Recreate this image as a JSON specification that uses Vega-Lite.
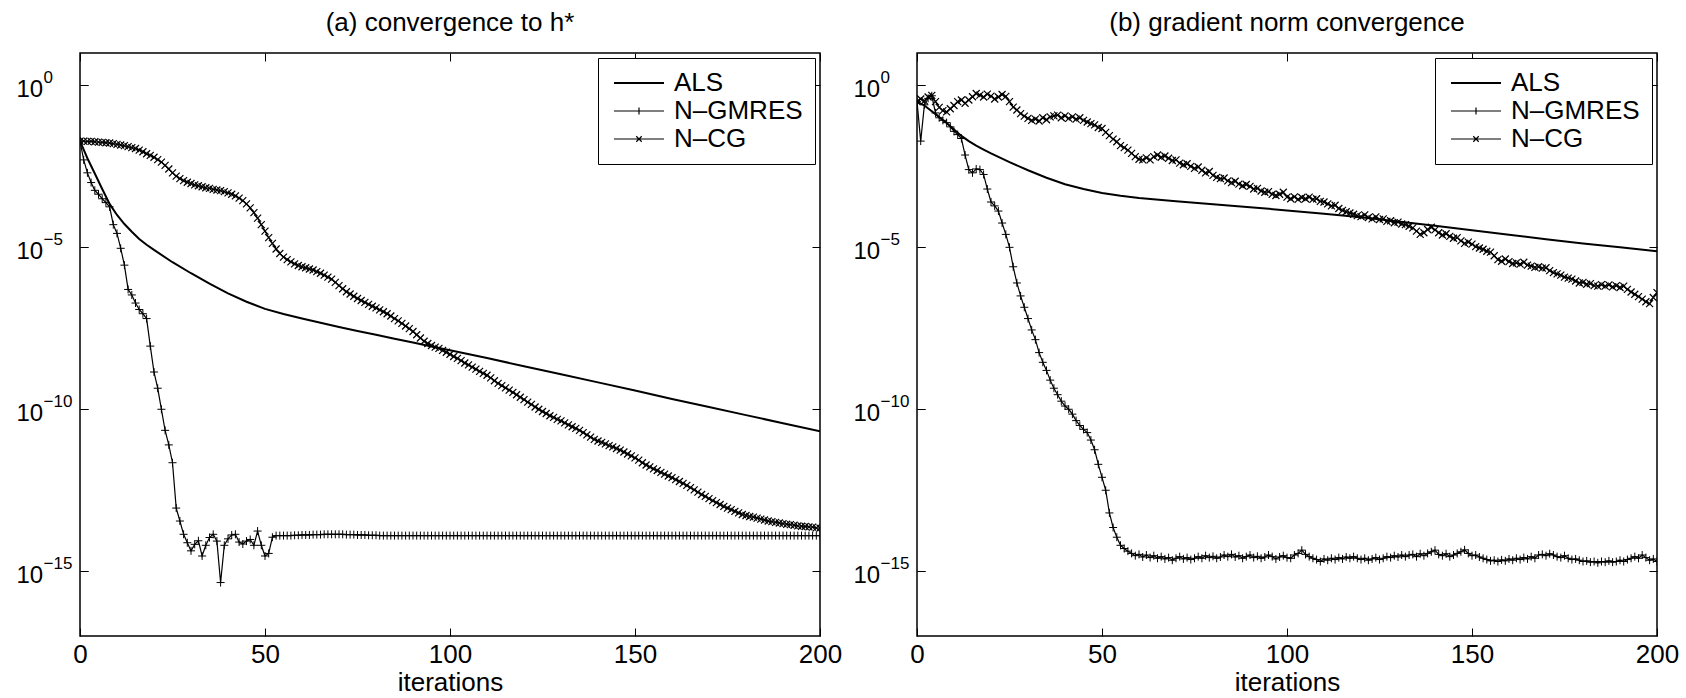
{
"$schema": "https://vega.github.io/schema/vega-lite/v6.json",
"autosize": {"type": "pad"},
"padding": {"left": 15, "top": 8, "right": 0, "bottom": 0},
"background": "white",
"config": {"font": "Liberation Sans", "view": {"stroke": "black", "strokeWidth": 1.5}},
"spacing": 9,
"resolve": {"scale": {"color": "independent"}},
"datasets": {
"aALS": [{"i":0,"v":-1.72},{"i":2,"v":-2.25},{"i":4,"v":-2.72},{"i":6,"v":-3.2},{"i":8,"v":-3.66},{"i":10,"v":-4.0},{"i":12,"v":-4.28},{"i":14,"v":-4.52},{"i":16,"v":-4.74},{"i":18,"v":-4.92},{"i":20,"v":-5.08},{"i":25,"v":-5.46},{"i":30,"v":-5.8},{"i":35,"v":-6.12},{"i":40,"v":-6.42},{"i":45,"v":-6.68},{"i":50,"v":-6.9},{"i":55,"v":-7.06},{"i":60,"v":-7.2},{"i":65,"v":-7.33},{"i":70,"v":-7.46},{"i":75,"v":-7.58},{"i":80,"v":-7.7},{"i":85,"v":-7.82},{"i":90,"v":-7.94},{"i":95,"v":-8.06},{"i":100,"v":-8.18},{"i":110,"v":-8.42},{"i":120,"v":-8.67},{"i":130,"v":-8.92},{"i":140,"v":-9.17},{"i":150,"v":-9.42},{"i":160,"v":-9.68},{"i":170,"v":-9.93},{"i":180,"v":-10.18},{"i":190,"v":-10.43},{"i":200,"v":-10.68}],
"aGM": [{"i":0,"v":-1.72},{"i":1,"v":-2.3},{"i":2,"v":-2.7},{"i":3,"v":-3.0},{"i":4,"v":-3.24},{"i":5,"v":-3.36},{"i":6,"v":-3.5},{"i":7,"v":-3.62},{"i":8,"v":-3.75},{"i":9,"v":-4.3},{"i":10,"v":-4.57},{"i":11,"v":-5.03},{"i":12,"v":-5.55},{"i":13,"v":-6.3},{"i":14,"v":-6.47},{"i":15,"v":-6.72},{"i":16,"v":-6.92},{"i":17,"v":-7.05},{"i":18,"v":-7.2},{"i":19,"v":-8.05},{"i":20,"v":-8.85},{"i":21,"v":-9.35},{"i":22,"v":-10.0},{"i":23,"v":-10.65},{"i":24,"v":-11.1},{"i":25,"v":-11.65},{"i":26,"v":-13.05},{"i":27,"v":-13.45},{"i":28,"v":-13.86},{"i":29,"v":-14.12},{"i":30,"v":-14.37},{"i":31,"v":-14.17},{"i":32,"v":-14.06},{"i":33,"v":-14.53},{"i":34,"v":-14.2},{"i":35,"v":-13.96},{"i":36,"v":-13.86},{"i":37,"v":-14.07},{"i":38,"v":-15.35},{"i":39,"v":-14.2},{"i":40,"v":-14.0},{"i":41,"v":-13.88},{"i":42,"v":-13.86},{"i":43,"v":-14.1},{"i":44,"v":-14.16},{"i":45,"v":-14.07},{"i":46,"v":-14.02},{"i":47,"v":-14.2},{"i":48,"v":-13.76},{"i":49,"v":-14.2},{"i":50,"v":-14.53},{"i":51,"v":-14.45},{"i":52,"v":-13.95},{"i":53,"v":-13.9},{"i":54,"v":-13.9},{"i":55,"v":-13.9},{"i":56,"v":-13.9},{"i":57,"v":-13.9},{"i":58,"v":-13.89},{"i":59,"v":-13.89},{"i":60,"v":-13.88},{"i":61,"v":-13.88},{"i":62,"v":-13.88},{"i":63,"v":-13.87},{"i":64,"v":-13.87},{"i":65,"v":-13.87},{"i":66,"v":-13.86},{"i":67,"v":-13.86},{"i":68,"v":-13.86},{"i":69,"v":-13.86},{"i":70,"v":-13.86},{"i":71,"v":-13.86},{"i":72,"v":-13.87},{"i":73,"v":-13.87},{"i":74,"v":-13.87},{"i":75,"v":-13.88},{"i":76,"v":-13.88},{"i":77,"v":-13.88},{"i":78,"v":-13.89},{"i":79,"v":-13.89},{"i":80,"v":-13.89},{"i":81,"v":-13.9},{"i":82,"v":-13.9},{"i":83,"v":-13.9},{"i":84,"v":-13.9},{"i":85,"v":-13.9},{"i":86,"v":-13.9},{"i":87,"v":-13.9},{"i":88,"v":-13.9},{"i":89,"v":-13.9},{"i":90,"v":-13.9},{"i":91,"v":-13.9},{"i":92,"v":-13.9},{"i":93,"v":-13.9},{"i":94,"v":-13.9},{"i":95,"v":-13.9},{"i":96,"v":-13.9},{"i":97,"v":-13.9},{"i":98,"v":-13.9},{"i":99,"v":-13.9},{"i":100,"v":-13.9},{"i":101,"v":-13.9},{"i":102,"v":-13.9},{"i":103,"v":-13.9},{"i":104,"v":-13.9},{"i":105,"v":-13.9},{"i":106,"v":-13.9},{"i":107,"v":-13.9},{"i":108,"v":-13.9},{"i":109,"v":-13.9},{"i":110,"v":-13.9},{"i":111,"v":-13.9},{"i":112,"v":-13.9},{"i":113,"v":-13.9},{"i":114,"v":-13.9},{"i":115,"v":-13.9},{"i":116,"v":-13.9},{"i":117,"v":-13.9},{"i":118,"v":-13.9},{"i":119,"v":-13.9},{"i":120,"v":-13.9},{"i":121,"v":-13.9},{"i":122,"v":-13.9},{"i":123,"v":-13.9},{"i":124,"v":-13.9},{"i":125,"v":-13.9},{"i":126,"v":-13.9},{"i":127,"v":-13.9},{"i":128,"v":-13.9},{"i":129,"v":-13.9},{"i":130,"v":-13.9},{"i":131,"v":-13.9},{"i":132,"v":-13.9},{"i":133,"v":-13.9},{"i":134,"v":-13.9},{"i":135,"v":-13.9},{"i":136,"v":-13.9},{"i":137,"v":-13.9},{"i":138,"v":-13.9},{"i":139,"v":-13.9},{"i":140,"v":-13.9},{"i":141,"v":-13.9},{"i":142,"v":-13.9},{"i":143,"v":-13.9},{"i":144,"v":-13.9},{"i":145,"v":-13.9},{"i":146,"v":-13.9},{"i":147,"v":-13.9},{"i":148,"v":-13.9},{"i":149,"v":-13.9},{"i":150,"v":-13.9},{"i":151,"v":-13.9},{"i":152,"v":-13.9},{"i":153,"v":-13.9},{"i":154,"v":-13.9},{"i":155,"v":-13.9},{"i":156,"v":-13.9},{"i":157,"v":-13.9},{"i":158,"v":-13.9},{"i":159,"v":-13.9},{"i":160,"v":-13.9},{"i":161,"v":-13.9},{"i":162,"v":-13.9},{"i":163,"v":-13.9},{"i":164,"v":-13.9},{"i":165,"v":-13.9},{"i":166,"v":-13.9},{"i":167,"v":-13.9},{"i":168,"v":-13.9},{"i":169,"v":-13.9},{"i":170,"v":-13.9},{"i":171,"v":-13.9},{"i":172,"v":-13.9},{"i":173,"v":-13.9},{"i":174,"v":-13.9},{"i":175,"v":-13.9},{"i":176,"v":-13.9},{"i":177,"v":-13.9},{"i":178,"v":-13.9},{"i":179,"v":-13.9},{"i":180,"v":-13.9},{"i":181,"v":-13.9},{"i":182,"v":-13.9},{"i":183,"v":-13.9},{"i":184,"v":-13.9},{"i":185,"v":-13.9},{"i":186,"v":-13.9},{"i":187,"v":-13.9},{"i":188,"v":-13.9},{"i":189,"v":-13.9},{"i":190,"v":-13.9},{"i":191,"v":-13.9},{"i":192,"v":-13.9},{"i":193,"v":-13.9},{"i":194,"v":-13.9},{"i":195,"v":-13.9},{"i":196,"v":-13.9},{"i":197,"v":-13.9},{"i":198,"v":-13.9},{"i":199,"v":-13.9},{"i":200,"v":-13.9}],
"aCG": [{"i":0,"v":-1.72},{"i":1,"v":-1.72},{"i":2,"v":-1.73},{"i":3,"v":-1.73},{"i":4,"v":-1.74},{"i":5,"v":-1.75},{"i":6,"v":-1.76},{"i":7,"v":-1.77},{"i":8,"v":-1.78},{"i":9,"v":-1.8},{"i":10,"v":-1.82},{"i":11,"v":-1.84},{"i":12,"v":-1.86},{"i":13,"v":-1.89},{"i":14,"v":-1.92},{"i":15,"v":-1.95},{"i":16,"v":-2.0},{"i":17,"v":-2.05},{"i":18,"v":-2.11},{"i":19,"v":-2.16},{"i":20,"v":-2.22},{"i":21,"v":-2.29},{"i":22,"v":-2.37},{"i":23,"v":-2.47},{"i":24,"v":-2.58},{"i":25,"v":-2.7},{"i":26,"v":-2.8},{"i":27,"v":-2.88},{"i":28,"v":-2.94},{"i":29,"v":-2.99},{"i":30,"v":-3.03},{"i":31,"v":-3.07},{"i":32,"v":-3.1},{"i":33,"v":-3.13},{"i":34,"v":-3.16},{"i":35,"v":-3.18},{"i":36,"v":-3.21},{"i":37,"v":-3.23},{"i":38,"v":-3.25},{"i":39,"v":-3.28},{"i":40,"v":-3.32},{"i":41,"v":-3.36},{"i":42,"v":-3.41},{"i":43,"v":-3.48},{"i":44,"v":-3.56},{"i":45,"v":-3.66},{"i":46,"v":-3.78},{"i":47,"v":-3.93},{"i":48,"v":-4.1},{"i":49,"v":-4.3},{"i":50,"v":-4.5},{"i":51,"v":-4.7},{"i":52,"v":-4.88},{"i":53,"v":-5.05},{"i":54,"v":-5.19},{"i":55,"v":-5.3},{"i":56,"v":-5.38},{"i":57,"v":-5.45},{"i":58,"v":-5.51},{"i":59,"v":-5.56},{"i":60,"v":-5.6},{"i":61,"v":-5.63},{"i":62,"v":-5.67},{"i":63,"v":-5.7},{"i":64,"v":-5.75},{"i":65,"v":-5.8},{"i":66,"v":-5.86},{"i":67,"v":-5.92},{"i":68,"v":-5.98},{"i":69,"v":-6.08},{"i":70,"v":-6.18},{"i":71,"v":-6.28},{"i":72,"v":-6.37},{"i":73,"v":-6.44},{"i":74,"v":-6.51},{"i":75,"v":-6.58},{"i":76,"v":-6.64},{"i":77,"v":-6.7},{"i":78,"v":-6.76},{"i":79,"v":-6.82},{"i":80,"v":-6.87},{"i":81,"v":-6.93},{"i":82,"v":-6.99},{"i":83,"v":-7.05},{"i":84,"v":-7.12},{"i":85,"v":-7.2},{"i":86,"v":-7.27},{"i":87,"v":-7.35},{"i":88,"v":-7.43},{"i":89,"v":-7.51},{"i":90,"v":-7.6},{"i":91,"v":-7.7},{"i":92,"v":-7.8},{"i":93,"v":-7.9},{"i":94,"v":-7.97},{"i":95,"v":-8.03},{"i":96,"v":-8.08},{"i":97,"v":-8.12},{"i":98,"v":-8.18},{"i":99,"v":-8.24},{"i":100,"v":-8.3},{"i":101,"v":-8.37},{"i":102,"v":-8.43},{"i":103,"v":-8.5},{"i":104,"v":-8.57},{"i":105,"v":-8.63},{"i":106,"v":-8.7},{"i":107,"v":-8.76},{"i":108,"v":-8.83},{"i":109,"v":-8.89},{"i":110,"v":-8.95},{"i":111,"v":-9.03},{"i":112,"v":-9.12},{"i":113,"v":-9.2},{"i":114,"v":-9.27},{"i":115,"v":-9.34},{"i":116,"v":-9.41},{"i":117,"v":-9.48},{"i":118,"v":-9.55},{"i":119,"v":-9.63},{"i":120,"v":-9.7},{"i":121,"v":-9.78},{"i":122,"v":-9.85},{"i":123,"v":-9.93},{"i":124,"v":-10.0},{"i":125,"v":-10.07},{"i":126,"v":-10.13},{"i":127,"v":-10.2},{"i":128,"v":-10.25},{"i":129,"v":-10.31},{"i":130,"v":-10.36},{"i":131,"v":-10.42},{"i":132,"v":-10.48},{"i":133,"v":-10.54},{"i":134,"v":-10.59},{"i":135,"v":-10.65},{"i":136,"v":-10.72},{"i":137,"v":-10.79},{"i":138,"v":-10.86},{"i":139,"v":-10.93},{"i":140,"v":-10.98},{"i":141,"v":-11.02},{"i":142,"v":-11.07},{"i":143,"v":-11.12},{"i":144,"v":-11.16},{"i":145,"v":-11.21},{"i":146,"v":-11.26},{"i":147,"v":-11.32},{"i":148,"v":-11.38},{"i":149,"v":-11.44},{"i":150,"v":-11.5},{"i":151,"v":-11.57},{"i":152,"v":-11.65},{"i":153,"v":-11.72},{"i":154,"v":-11.78},{"i":155,"v":-11.84},{"i":156,"v":-11.89},{"i":157,"v":-11.95},{"i":158,"v":-12.0},{"i":159,"v":-12.06},{"i":160,"v":-12.11},{"i":161,"v":-12.17},{"i":162,"v":-12.23},{"i":163,"v":-12.29},{"i":164,"v":-12.35},{"i":165,"v":-12.42},{"i":166,"v":-12.49},{"i":167,"v":-12.56},{"i":168,"v":-12.63},{"i":169,"v":-12.69},{"i":170,"v":-12.76},{"i":171,"v":-12.82},{"i":172,"v":-12.88},{"i":173,"v":-12.94},{"i":174,"v":-13.0},{"i":175,"v":-13.05},{"i":176,"v":-13.1},{"i":177,"v":-13.15},{"i":178,"v":-13.2},{"i":179,"v":-13.25},{"i":180,"v":-13.28},{"i":181,"v":-13.31},{"i":182,"v":-13.33},{"i":183,"v":-13.36},{"i":184,"v":-13.39},{"i":185,"v":-13.42},{"i":186,"v":-13.45},{"i":187,"v":-13.47},{"i":188,"v":-13.49},{"i":189,"v":-13.51},{"i":190,"v":-13.53},{"i":191,"v":-13.55},{"i":192,"v":-13.56},{"i":193,"v":-13.58},{"i":194,"v":-13.6},{"i":195,"v":-13.61},{"i":196,"v":-13.62},{"i":197,"v":-13.63},{"i":198,"v":-13.64},{"i":199,"v":-13.66},{"i":200,"v":-13.67}],
"bALS": [{"i":0,"v":-0.5},{"i":2,"v":-0.62},{"i":4,"v":-0.8},{"i":6,"v":-0.98},{"i":8,"v":-1.16},{"i":10,"v":-1.36},{"i":12,"v":-1.56},{"i":14,"v":-1.72},{"i":16,"v":-1.86},{"i":18,"v":-1.98},{"i":20,"v":-2.1},{"i":25,"v":-2.37},{"i":30,"v":-2.62},{"i":35,"v":-2.85},{"i":40,"v":-3.05},{"i":45,"v":-3.2},{"i":50,"v":-3.32},{"i":55,"v":-3.41},{"i":60,"v":-3.48},{"i":70,"v":-3.58},{"i":80,"v":-3.67},{"i":90,"v":-3.76},{"i":100,"v":-3.86},{"i":110,"v":-3.96},{"i":120,"v":-4.07},{"i":130,"v":-4.2},{"i":140,"v":-4.33},{"i":150,"v":-4.47},{"i":160,"v":-4.61},{"i":170,"v":-4.75},{"i":180,"v":-4.88},{"i":190,"v":-5.0},{"i":200,"v":-5.12}],
"bGM": [{"i":0,"v":-0.5},{"i":1,"v":-1.72},{"i":2,"v":-0.6},{"i":3,"v":-0.4},{"i":4,"v":-0.32},{"i":5,"v":-0.85},{"i":6,"v":-1.0},{"i":7,"v":-1.08},{"i":8,"v":-1.15},{"i":9,"v":-1.28},{"i":10,"v":-1.42},{"i":11,"v":-1.52},{"i":12,"v":-1.64},{"i":13,"v":-2.15},{"i":14,"v":-2.6},{"i":15,"v":-2.7},{"i":16,"v":-2.58},{"i":17,"v":-2.6},{"i":18,"v":-2.75},{"i":19,"v":-3.2},{"i":20,"v":-3.6},{"i":21,"v":-3.72},{"i":22,"v":-3.88},{"i":23,"v":-4.25},{"i":24,"v":-4.6},{"i":25,"v":-5.0},{"i":26,"v":-5.6},{"i":27,"v":-6.1},{"i":28,"v":-6.5},{"i":29,"v":-6.85},{"i":30,"v":-7.2},{"i":31,"v":-7.55},{"i":32,"v":-7.85},{"i":33,"v":-8.25},{"i":34,"v":-8.55},{"i":35,"v":-8.8},{"i":36,"v":-9.1},{"i":37,"v":-9.35},{"i":38,"v":-9.55},{"i":39,"v":-9.75},{"i":40,"v":-9.9},{"i":41,"v":-10.0},{"i":42,"v":-10.15},{"i":43,"v":-10.35},{"i":44,"v":-10.5},{"i":45,"v":-10.62},{"i":46,"v":-10.72},{"i":47,"v":-10.95},{"i":48,"v":-11.25},{"i":49,"v":-11.7},{"i":50,"v":-12.1},{"i":51,"v":-12.5},{"i":52,"v":-13.2},{"i":53,"v":-13.65},{"i":54,"v":-13.95},{"i":55,"v":-14.2},{"i":56,"v":-14.3},{"i":57,"v":-14.38},{"i":58,"v":-14.45},{"i":59,"v":-14.52},{"i":60,"v":-14.48},{"i":61,"v":-14.56},{"i":62,"v":-14.5},{"i":63,"v":-14.58},{"i":64,"v":-14.52},{"i":65,"v":-14.6},{"i":66,"v":-14.55},{"i":67,"v":-14.62},{"i":68,"v":-14.58},{"i":69,"v":-14.66},{"i":70,"v":-14.6},{"i":71,"v":-14.55},{"i":72,"v":-14.62},{"i":73,"v":-14.58},{"i":74,"v":-14.64},{"i":75,"v":-14.6},{"i":76,"v":-14.55},{"i":77,"v":-14.6},{"i":78,"v":-14.52},{"i":79,"v":-14.58},{"i":80,"v":-14.54},{"i":81,"v":-14.6},{"i":82,"v":-14.56},{"i":83,"v":-14.5},{"i":84,"v":-14.55},{"i":85,"v":-14.48},{"i":86,"v":-14.56},{"i":87,"v":-14.52},{"i":88,"v":-14.6},{"i":89,"v":-14.55},{"i":90,"v":-14.5},{"i":91,"v":-14.58},{"i":92,"v":-14.54},{"i":93,"v":-14.6},{"i":94,"v":-14.56},{"i":95,"v":-14.5},{"i":96,"v":-14.55},{"i":97,"v":-14.62},{"i":98,"v":-14.56},{"i":99,"v":-14.52},{"i":100,"v":-14.58},{"i":101,"v":-14.6},{"i":102,"v":-14.5},{"i":103,"v":-14.45},{"i":104,"v":-14.35},{"i":105,"v":-14.48},{"i":106,"v":-14.55},{"i":107,"v":-14.6},{"i":108,"v":-14.64},{"i":109,"v":-14.7},{"i":110,"v":-14.62},{"i":111,"v":-14.66},{"i":112,"v":-14.6},{"i":113,"v":-14.64},{"i":114,"v":-14.58},{"i":115,"v":-14.62},{"i":116,"v":-14.56},{"i":117,"v":-14.6},{"i":118,"v":-14.55},{"i":119,"v":-14.6},{"i":120,"v":-14.64},{"i":121,"v":-14.6},{"i":122,"v":-14.66},{"i":123,"v":-14.62},{"i":124,"v":-14.58},{"i":125,"v":-14.64},{"i":126,"v":-14.6},{"i":127,"v":-14.55},{"i":128,"v":-14.58},{"i":129,"v":-14.52},{"i":130,"v":-14.56},{"i":131,"v":-14.5},{"i":132,"v":-14.55},{"i":133,"v":-14.5},{"i":134,"v":-14.48},{"i":135,"v":-14.55},{"i":136,"v":-14.46},{"i":137,"v":-14.52},{"i":138,"v":-14.45},{"i":139,"v":-14.4},{"i":140,"v":-14.35},{"i":141,"v":-14.48},{"i":142,"v":-14.52},{"i":143,"v":-14.46},{"i":144,"v":-14.55},{"i":145,"v":-14.5},{"i":146,"v":-14.45},{"i":147,"v":-14.4},{"i":148,"v":-14.34},{"i":149,"v":-14.45},{"i":150,"v":-14.52},{"i":151,"v":-14.5},{"i":152,"v":-14.56},{"i":153,"v":-14.6},{"i":154,"v":-14.64},{"i":155,"v":-14.68},{"i":156,"v":-14.66},{"i":157,"v":-14.7},{"i":158,"v":-14.65},{"i":159,"v":-14.68},{"i":160,"v":-14.62},{"i":161,"v":-14.66},{"i":162,"v":-14.6},{"i":163,"v":-14.64},{"i":164,"v":-14.58},{"i":165,"v":-14.62},{"i":166,"v":-14.55},{"i":167,"v":-14.6},{"i":168,"v":-14.5},{"i":169,"v":-14.48},{"i":170,"v":-14.52},{"i":171,"v":-14.46},{"i":172,"v":-14.5},{"i":173,"v":-14.55},{"i":174,"v":-14.58},{"i":175,"v":-14.52},{"i":176,"v":-14.6},{"i":177,"v":-14.64},{"i":178,"v":-14.62},{"i":179,"v":-14.66},{"i":180,"v":-14.7},{"i":181,"v":-14.68},{"i":182,"v":-14.72},{"i":183,"v":-14.7},{"i":184,"v":-14.74},{"i":185,"v":-14.7},{"i":186,"v":-14.72},{"i":187,"v":-14.68},{"i":188,"v":-14.72},{"i":189,"v":-14.7},{"i":190,"v":-14.66},{"i":191,"v":-14.7},{"i":192,"v":-14.64},{"i":193,"v":-14.6},{"i":194,"v":-14.55},{"i":195,"v":-14.6},{"i":196,"v":-14.5},{"i":197,"v":-14.58},{"i":198,"v":-14.66},{"i":199,"v":-14.62},{"i":200,"v":-14.7}],
"bCG": [{"i":0,"v":-0.5},{"i":1,"v":-0.42},{"i":2,"v":-0.48},{"i":3,"v":-0.36},{"i":4,"v":-0.31},{"i":5,"v":-0.5},{"i":6,"v":-0.68},{"i":7,"v":-0.78},{"i":8,"v":-0.82},{"i":9,"v":-0.72},{"i":10,"v":-0.62},{"i":11,"v":-0.5},{"i":12,"v":-0.45},{"i":13,"v":-0.55},{"i":14,"v":-0.45},{"i":15,"v":-0.35},{"i":16,"v":-0.25},{"i":17,"v":-0.3},{"i":18,"v":-0.36},{"i":19,"v":-0.27},{"i":20,"v":-0.33},{"i":21,"v":-0.42},{"i":22,"v":-0.36},{"i":23,"v":-0.28},{"i":24,"v":-0.34},{"i":25,"v":-0.5},{"i":26,"v":-0.67},{"i":27,"v":-0.76},{"i":28,"v":-0.87},{"i":29,"v":-0.95},{"i":30,"v":-1.02},{"i":31,"v":-1.08},{"i":32,"v":-1.04},{"i":33,"v":-1.1},{"i":34,"v":-1.0},{"i":35,"v":-1.06},{"i":36,"v":-0.97},{"i":37,"v":-0.94},{"i":38,"v":-0.92},{"i":39,"v":-1.0},{"i":40,"v":-0.94},{"i":41,"v":-1.02},{"i":42,"v":-0.97},{"i":43,"v":-1.04},{"i":44,"v":-1.0},{"i":45,"v":-1.08},{"i":46,"v":-1.13},{"i":47,"v":-1.18},{"i":48,"v":-1.22},{"i":49,"v":-1.3},{"i":50,"v":-1.33},{"i":51,"v":-1.45},{"i":52,"v":-1.55},{"i":53,"v":-1.66},{"i":54,"v":-1.74},{"i":55,"v":-1.86},{"i":56,"v":-1.92},{"i":57,"v":-2.0},{"i":58,"v":-2.1},{"i":59,"v":-2.2},{"i":60,"v":-2.28},{"i":61,"v":-2.3},{"i":62,"v":-2.24},{"i":63,"v":-2.3},{"i":64,"v":-2.2},{"i":65,"v":-2.15},{"i":66,"v":-2.22},{"i":67,"v":-2.18},{"i":68,"v":-2.25},{"i":69,"v":-2.32},{"i":70,"v":-2.3},{"i":71,"v":-2.4},{"i":72,"v":-2.45},{"i":73,"v":-2.42},{"i":74,"v":-2.5},{"i":75,"v":-2.56},{"i":76,"v":-2.52},{"i":77,"v":-2.62},{"i":78,"v":-2.7},{"i":79,"v":-2.66},{"i":80,"v":-2.78},{"i":81,"v":-2.84},{"i":82,"v":-2.88},{"i":83,"v":-2.86},{"i":84,"v":-2.95},{"i":85,"v":-3.0},{"i":86,"v":-2.96},{"i":87,"v":-3.05},{"i":88,"v":-3.1},{"i":89,"v":-3.06},{"i":90,"v":-3.12},{"i":91,"v":-3.2},{"i":92,"v":-3.18},{"i":93,"v":-3.26},{"i":94,"v":-3.3},{"i":95,"v":-3.28},{"i":96,"v":-3.36},{"i":97,"v":-3.4},{"i":98,"v":-3.36},{"i":99,"v":-3.3},{"i":100,"v":-3.45},{"i":101,"v":-3.5},{"i":102,"v":-3.44},{"i":103,"v":-3.52},{"i":104,"v":-3.46},{"i":105,"v":-3.5},{"i":106,"v":-3.45},{"i":107,"v":-3.52},{"i":108,"v":-3.5},{"i":109,"v":-3.58},{"i":110,"v":-3.6},{"i":111,"v":-3.66},{"i":112,"v":-3.72},{"i":113,"v":-3.7},{"i":114,"v":-3.8},{"i":115,"v":-3.86},{"i":116,"v":-3.9},{"i":117,"v":-3.94},{"i":118,"v":-3.98},{"i":119,"v":-4.02},{"i":120,"v":-4.05},{"i":121,"v":-4.0},{"i":122,"v":-4.08},{"i":123,"v":-4.12},{"i":124,"v":-4.06},{"i":125,"v":-4.14},{"i":126,"v":-4.12},{"i":127,"v":-4.2},{"i":128,"v":-4.18},{"i":129,"v":-4.24},{"i":130,"v":-4.22},{"i":131,"v":-4.28},{"i":132,"v":-4.3},{"i":133,"v":-4.35},{"i":134,"v":-4.4},{"i":135,"v":-4.5},{"i":136,"v":-4.6},{"i":137,"v":-4.55},{"i":138,"v":-4.45},{"i":139,"v":-4.38},{"i":140,"v":-4.46},{"i":141,"v":-4.55},{"i":142,"v":-4.62},{"i":143,"v":-4.58},{"i":144,"v":-4.66},{"i":145,"v":-4.72},{"i":146,"v":-4.7},{"i":147,"v":-4.8},{"i":148,"v":-4.88},{"i":149,"v":-4.84},{"i":150,"v":-4.9},{"i":151,"v":-4.98},{"i":152,"v":-5.02},{"i":153,"v":-5.06},{"i":154,"v":-5.12},{"i":155,"v":-5.15},{"i":156,"v":-5.26},{"i":157,"v":-5.38},{"i":158,"v":-5.43},{"i":159,"v":-5.36},{"i":160,"v":-5.44},{"i":161,"v":-5.5},{"i":162,"v":-5.48},{"i":163,"v":-5.52},{"i":164,"v":-5.46},{"i":165,"v":-5.55},{"i":166,"v":-5.58},{"i":167,"v":-5.62},{"i":168,"v":-5.6},{"i":169,"v":-5.64},{"i":170,"v":-5.63},{"i":171,"v":-5.72},{"i":172,"v":-5.78},{"i":173,"v":-5.82},{"i":174,"v":-5.86},{"i":175,"v":-5.92},{"i":176,"v":-5.95},{"i":177,"v":-5.98},{"i":178,"v":-6.04},{"i":179,"v":-6.1},{"i":180,"v":-6.08},{"i":181,"v":-6.14},{"i":182,"v":-6.12},{"i":183,"v":-6.18},{"i":184,"v":-6.2},{"i":185,"v":-6.15},{"i":186,"v":-6.2},{"i":187,"v":-6.16},{"i":188,"v":-6.22},{"i":189,"v":-6.18},{"i":190,"v":-6.24},{"i":191,"v":-6.2},{"i":192,"v":-6.3},{"i":193,"v":-6.38},{"i":194,"v":-6.45},{"i":195,"v":-6.52},{"i":196,"v":-6.6},{"i":197,"v":-6.68},{"i":198,"v":-6.74},{"i":199,"v":-6.55},{"i":200,"v":-6.4}]
},
"hconcat": [
{
"width": 740, "height": 583,
"title": {"text": "(a) convergence to h*", "fontSize": 26, "fontWeight": "normal", "color": "black", "offset": 17, "frame": "group", "anchor": "middle"},
"resolve": {"axis": {"x": "independent", "y": "independent"}},
"layer": [
{"data": {"name": "aALS"}, "mark": {"type": "line", "strokeWidth": 2, "clip": true},
 "encoding": {
  "x": {"field": "i", "type": "quantitative", "scale": {"domain": [0, 200], "nice": false}, "axis": {"orient": "bottom", "values": [0, 50, 100, 150, 200], "title": "iterations", "titleFontSize": 26, "titleFontWeight": "normal", "titleColor": "black", "titlePadding": 2, "labelFontSize": 26, "labelColor": "black", "tickSize": -8, "tickColor": "black", "labelPadding": 13, "domain": false, "grid": false, "labelFlush": false}},
  "y": {"field": "v", "type": "quantitative", "scale": {"domain": [-17, 1], "nice": false, "zero": false}, "axis": {"orient": "left", "values": [0, -5, -10, -15], "labelExpr": "'10'", "labelAlign": "left", "labelBaseline": "middle", "labelPadding": 72, "labelOffset": 4, "labelFontSize": 24, "labelColor": "black", "tickSize": -8, "tickColor": "black", "domain": false, "grid": false, "title": null}},
  "color": {"datum": "ALS", "type": "nominal", "scale": {"domain": ["ALS", "N–GMRES", "N–CG"], "range": ["black", "black", "black"]},
   "legend": {"orient": "top-right", "offset": 5, "title": null, "strokeColor": "black", "fillColor": "white", "padding": 12, "labelFontSize": 26, "labelColor": "black", "symbolSize": 100, "symbolOffset": 16, "labelOffset": 22, "rowPadding": 2,
    "encode": {"symbols": {"update": {"shape": {"signal": "datum.value === 'ALS' ? 'M-5,0H5' : datum.value === 'N–GMRES' ? 'M-5,0H5M0,-0.7V0.7' : 'M-5,0H5M-0.55,-0.55L0.55,0.55M-0.55,0.55L0.55,-0.55'"}, "stroke": {"value": "black"}, "fill": {"value": "transparent"}, "strokeWidth": {"signal": "datum.value === 'ALS' ? 2 : 1.2"}, "opacity": {"value": 1}}}}}}
 }},
{"data": {"name": "aGM"}, "mark": {"type": "line", "strokeWidth": 1.2, "clip": true},
 "encoding": {
  "x": {"field": "i", "type": "quantitative", "axis": {"orient": "top", "values": [0, 50, 100, 150, 200], "labels": false, "title": null, "tickSize": -8, "tickColor": "black", "domain": false, "grid": false}},
  "y": {"field": "v", "type": "quantitative", "axis": {"orient": "right", "values": [0, -5, -10, -15], "labels": false, "title": null, "tickSize": -8, "tickColor": "black", "domain": false, "grid": false}},
  "color": {"datum": "N–GMRES", "type": "nominal"}
 }},
{"data": {"name": "aGM"}, "mark": {"type": "point", "shape": "M-1,0H1M0,-1V1", "filled": false, "size": 64, "strokeWidth": 1, "opacity": 1, "clip": true},
 "encoding": {
  "x": {"field": "i", "type": "quantitative", "axis": null},
  "y": {"field": "v", "type": "quantitative", "axis": {"orient": "left", "values": [0, -5, -10, -15], "labelExpr": "datum.value == 0 ? '0' : datum.value == -5 ? '−5' : datum.value == -10 ? '−10' : '−15'", "labelAlign": "left", "labelBaseline": "middle", "labelPadding": 45, "labelOffset": -8, "labelFontSize": 17, "labelColor": "black", "tickSize": -8, "tickColor": "black", "domain": false, "grid": false, "title": null}},
  "color": {"datum": "N–GMRES", "type": "nominal"}
 }},
{"data": {"name": "aCG"}, "mark": {"type": "line", "strokeWidth": 1.2, "clip": true},
 "encoding": {
  "x": {"field": "i", "type": "quantitative", "axis": null},
  "y": {"field": "v", "type": "quantitative", "axis": null},
  "color": {"datum": "N–CG", "type": "nominal"}
 }},
{"data": {"name": "aCG"}, "mark": {"type": "point", "shape": "M-1,-1L1,1M-1,1L1,-1", "filled": false, "size": 49, "strokeWidth": 1.2, "opacity": 1, "clip": true},
 "encoding": {
  "x": {"field": "i", "type": "quantitative", "axis": null},
  "y": {"field": "v", "type": "quantitative", "axis": null},
  "color": {"datum": "N–CG", "type": "nominal"}
 }}
]
},
{
"width": 740, "height": 583,
"title": {"text": "(b) gradient norm convergence", "fontSize": 26, "fontWeight": "normal", "color": "black", "offset": 17, "frame": "group", "anchor": "middle"},
"resolve": {"axis": {"x": "independent", "y": "independent"}},
"layer": [
{"data": {"name": "bALS"}, "mark": {"type": "line", "strokeWidth": 2, "clip": true},
 "encoding": {
  "x": {"field": "i", "type": "quantitative", "scale": {"domain": [0, 200], "nice": false}, "axis": {"orient": "bottom", "values": [0, 50, 100, 150, 200], "title": "iterations", "titleFontSize": 26, "titleFontWeight": "normal", "titleColor": "black", "titlePadding": 2, "labelFontSize": 26, "labelColor": "black", "tickSize": -8, "tickColor": "black", "labelPadding": 13, "domain": false, "grid": false, "labelFlush": false}},
  "y": {"field": "v", "type": "quantitative", "scale": {"domain": [-17, 1], "nice": false, "zero": false}, "axis": {"orient": "left", "values": [0, -5, -10, -15], "labelExpr": "'10'", "labelAlign": "left", "labelBaseline": "middle", "labelPadding": 72, "labelOffset": 4, "labelFontSize": 24, "labelColor": "black", "tickSize": -8, "tickColor": "black", "domain": false, "grid": false, "title": null}},
  "color": {"datum": "ALS", "type": "nominal", "scale": {"domain": ["ALS", "N–GMRES", "N–CG"], "range": ["black", "black", "black"]},
   "legend": {"orient": "top-right", "offset": 5, "title": null, "strokeColor": "black", "fillColor": "white", "padding": 12, "labelFontSize": 26, "labelColor": "black", "symbolSize": 100, "symbolOffset": 16, "labelOffset": 22, "rowPadding": 2,
    "encode": {"symbols": {"update": {"shape": {"signal": "datum.value === 'ALS' ? 'M-5,0H5' : datum.value === 'N–GMRES' ? 'M-5,0H5M0,-0.7V0.7' : 'M-5,0H5M-0.55,-0.55L0.55,0.55M-0.55,0.55L0.55,-0.55'"}, "stroke": {"value": "black"}, "fill": {"value": "transparent"}, "strokeWidth": {"signal": "datum.value === 'ALS' ? 2 : 1.2"}, "opacity": {"value": 1}}}}}}
 }},
{"data": {"name": "bGM"}, "mark": {"type": "line", "strokeWidth": 1.2, "clip": true},
 "encoding": {
  "x": {"field": "i", "type": "quantitative", "axis": {"orient": "top", "values": [0, 50, 100, 150, 200], "labels": false, "title": null, "tickSize": -8, "tickColor": "black", "domain": false, "grid": false}},
  "y": {"field": "v", "type": "quantitative", "axis": {"orient": "right", "values": [0, -5, -10, -15], "labels": false, "title": null, "tickSize": -8, "tickColor": "black", "domain": false, "grid": false}},
  "color": {"datum": "N–GMRES", "type": "nominal"}
 }},
{"data": {"name": "bGM"}, "mark": {"type": "point", "shape": "M-1,0H1M0,-1V1", "filled": false, "size": 64, "strokeWidth": 1, "opacity": 1, "clip": true},
 "encoding": {
  "x": {"field": "i", "type": "quantitative", "axis": null},
  "y": {"field": "v", "type": "quantitative", "axis": {"orient": "left", "values": [0, -5, -10, -15], "labelExpr": "datum.value == 0 ? '0' : datum.value == -5 ? '−5' : datum.value == -10 ? '−10' : '−15'", "labelAlign": "left", "labelBaseline": "middle", "labelPadding": 45, "labelOffset": -8, "labelFontSize": 17, "labelColor": "black", "tickSize": -8, "tickColor": "black", "domain": false, "grid": false, "title": null}},
  "color": {"datum": "N–GMRES", "type": "nominal"}
 }},
{"data": {"name": "bCG"}, "mark": {"type": "line", "strokeWidth": 1.2, "clip": true},
 "encoding": {
  "x": {"field": "i", "type": "quantitative", "axis": null},
  "y": {"field": "v", "type": "quantitative", "axis": null},
  "color": {"datum": "N–CG", "type": "nominal"}
 }},
{"data": {"name": "bCG"}, "mark": {"type": "point", "shape": "M-1,-1L1,1M-1,1L1,-1", "filled": false, "size": 49, "strokeWidth": 1.2, "opacity": 1, "clip": true},
 "encoding": {
  "x": {"field": "i", "type": "quantitative", "axis": null},
  "y": {"field": "v", "type": "quantitative", "axis": null},
  "color": {"datum": "N–CG", "type": "nominal"}
 }}
]
}
]
}
